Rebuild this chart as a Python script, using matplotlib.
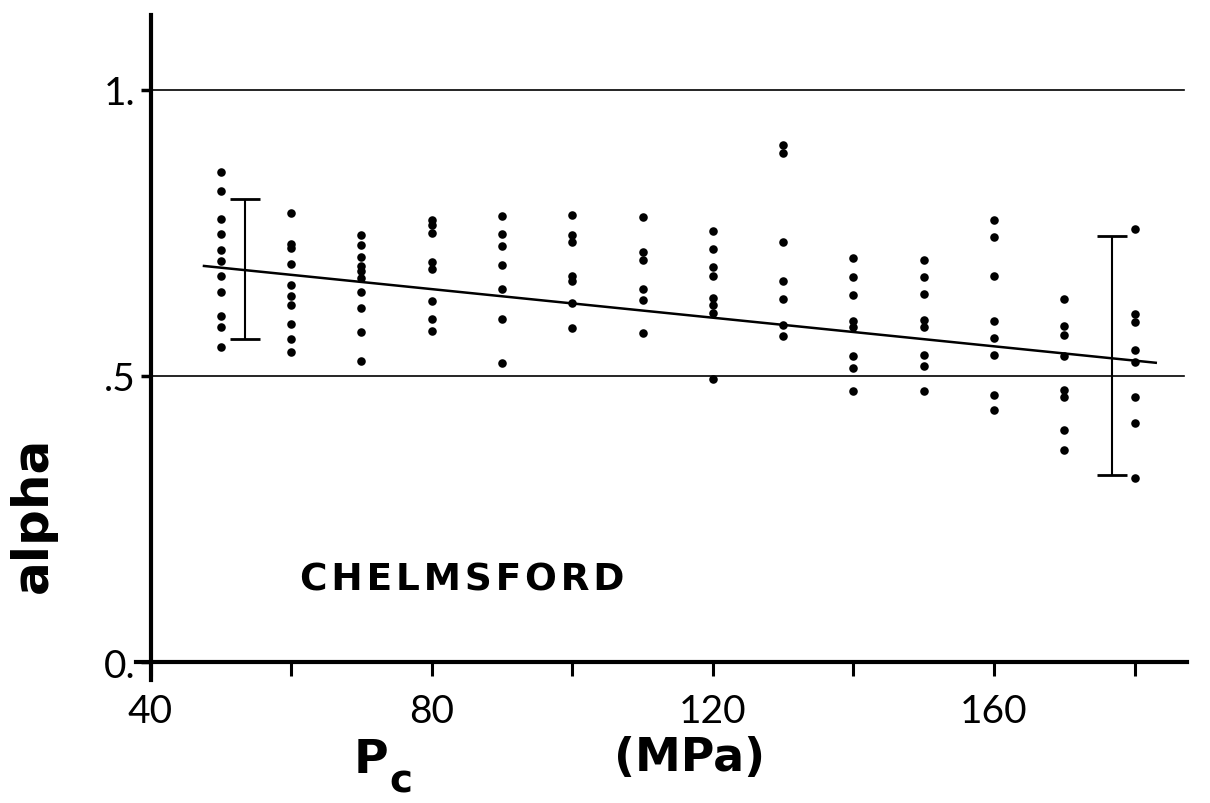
import matplotlib.pyplot as plt
import numpy as np

# confining pressure columns (MPa) and the alpha values
pressures = [50, 60, 70, 80, 90, 100, 110, 120, 130, 140, 150, 160, 170, 180]
alpha_50 = [0.856, 0.822, 0.774, 0.748, 0.719, 0.700, 0.675, 0.647, 0.605, 0.585, 0.551]
alpha_60 = [0.784, 0.730, 0.723, 0.695, 0.658, 0.640, 0.624, 0.591, 0.565, 0.542]
alpha_70 = [0.746, 0.729, 0.707, 0.692, 0.683, 0.671, 0.646, 0.618, 0.577, 0.526]
alpha_80 = [0.773, 0.764, 0.749, 0.699, 0.687, 0.630, 0.600, 0.579]
alpha_90 = [0.780, 0.748, 0.726, 0.694, 0.651, 0.600, 0.522]
alpha_100 = [0.781, 0.746, 0.734, 0.675, 0.665, 0.628, 0.583]
alpha_110 = [0.777, 0.717, 0.702, 0.652, 0.632, 0.575]
alpha_120 = [0.753, 0.722, 0.690, 0.675, 0.636, 0.623, 0.610, 0.494]
alpha_130 = [0.903, 0.890, 0.733, 0.666, 0.635, 0.589, 0.570]
alpha_140 = [0.706, 0.672, 0.641, 0.596, 0.585, 0.534, 0.514, 0.474]
alpha_150 = [0.703, 0.673, 0.643, 0.597, 0.585, 0.536, 0.517, 0.473]
alpha_160 = [0.772, 0.742, 0.675, 0.596, 0.566, 0.536, 0.466, 0.440]
alpha_170 = [0.634, 0.587, 0.572, 0.535, 0.476, 0.463, 0.405, 0.371]
alpha_180 = [0.756, 0.608, 0.595, 0.545, 0.525, 0.463, 0.417, 0.322]
columns = [alpha_50, alpha_60, alpha_70, alpha_80, alpha_90, alpha_100, alpha_110,
           alpha_120, alpha_130, alpha_140, alpha_150, alpha_160, alpha_170, alpha_180]

# linear fit drawn through the data
fit_p = [47.6, 183.0]
fit_alpha = [0.692, 0.523]

# error bars (position, low, high)
err_p = [53.4, 176.8]
err_low = [0.565, 0.327]
err_high = [0.809, 0.744]

ref_levels = [0.5, 1.0]

fig = plt.figure(figsize=(12.1, 8.04), dpi=100)
ax = fig.add_axes([0.1128, 0.1536, 0.8685, 0.8264])

for p, vals in zip(pressures, columns):
    ax.scatter([p] * len(vals), vals, s=38, color='black', zorder=3, linewidths=0)

ax.plot(fit_p, fit_alpha, color='black', lw=1.8)
for lev in ref_levels:
    ax.plot([40, 187.0], [lev, lev], color='black', lw=1.2)

for p, lo, hi in zip(err_p, err_low, err_high):
    mid = (lo + hi) / 2
    ax.errorbar(p, mid, yerr=[[mid - lo], [hi - mid]], color='black', lw=1.5,
                capsize=11, capthick=2)

ax.set_xlim(38, 187.5)
ax.set_ylim(-0.03, 1.13)
for s in ['top', 'right']:
    ax.spines[s].set_visible(False)
ax.spines['left'].set_position(('data', 40))
ax.spines['bottom'].set_position(('data', 0))
ax.spines['left'].set_linewidth(3)
ax.spines['bottom'].set_linewidth(3)

ax.set_xticks(np.arange(40, 181, 20))
ax.set_xticklabels(['40', '', '80', '', '120', '', '160', ''])
ax.set_yticks([0, 0.5, 1.0])
ax.set_yticklabels(['0.', '.5', '1.'])
ax.tick_params(axis='x', direction='out', length=10, width=2.2, pad=12)
ax.tick_params(axis='y', direction='out', length=7, width=2.5, pad=4)
for lab in ax.get_xticklabels() + ax.get_yticklabels():
    lab.set_family('Lato')
    lab.set_weight('normal')
    lab.set_fontsize(28)

ax.text(61.3, 0.145, '\u200a'.join('CHELMSFORD'), fontsize=27, fontweight='bold',
        family='DejaVu Sans', va='center', ha='left')

fig.text(0.027, 0.36, 'alpha', rotation=90, fontsize=36, fontweight='bold',
         family='DejaVu Sans', va='center', ha='center')
fig.text(0.307, 0.054, 'P', fontsize=34, fontweight='bold', family='DejaVu Sans',
         va='center', ha='center')
fig.text(0.322, 0.004, 'c', fontsize=28, fontweight='bold', family='DejaVu Sans',
         va='bottom', ha='left')
fig.text(0.570, 0.057, '(MPa)', fontsize=33, fontweight='bold', family='DejaVu Sans',
         va='center', ha='center')

fig.savefig('out.png', dpi=100)
